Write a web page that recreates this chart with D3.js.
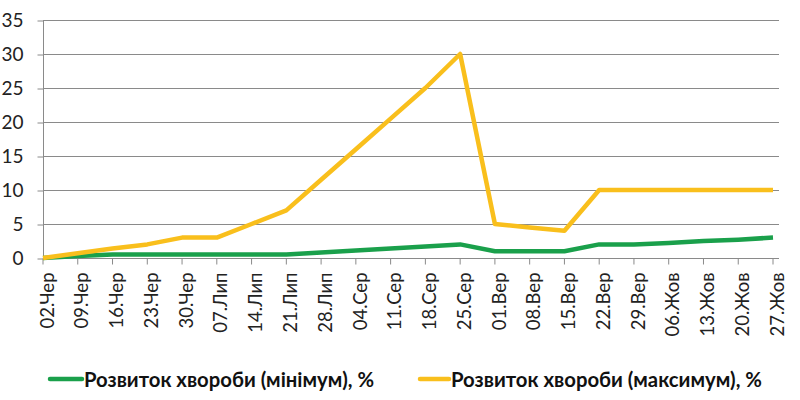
<!DOCTYPE html>
<html><head><meta charset="utf-8">
<script src="https://cdn.jsdelivr.net/npm/d3@7"></script>
<style>
body{margin:0;background:#fff;}
svg{display:block;font-family:Lato,"Open Sans","Noto Sans",sans-serif;}
</style></head>
<body><svg id="c" width="800" height="400"></svg>
<script>
const categories = ["02.Чер","09.Чер","16.Чер","23.Чер","30.Чер","07.Лип","14.Лип","21.Лип","28.Лип","04.Сер","11.Сер","18.Сер","25.Сер","01.Вер","08.Вер","15.Вер","22.Вер","29.Вер","06.Жов","13.Жов","20.Жов","27.Жов"];
const minValues = [0,0.3,0.5,0.5,0.5,0.5,0.5,0.5,0.8,1.1,1.4,1.7,2,1,1,1,2,2,2.2,2.5,2.7,3];
const maxValues = [0,0.7,1.4,2,3,3,5,7,11.5,16,20.5,25,30,5,4.5,4,10,10,10,10,10,10];
const yTicks = [0,5,10,15,20,25,30,35];
const seriesNames = ["Розвиток хвороби (мінімум), %","Розвиток хвороби (максимум), %"];
const colors = ["#1aa04b","#f9bf1c"];

const svg = d3.select("#c");
const x = d3.scalePoint().domain(categories).range([43, 773]);
const y = d3.scaleLinear().domain([0,35]).range([258, 20]);
const xEnd = 779;

// gridlines
svg.append("g").selectAll("line").data(yTicks.filter(d=>d>0)).join("line")
  .attr("x1",43).attr("x2",xEnd).attr("y1",d=>y(d)+0.5).attr("y2",d=>y(d)+0.5)
  .attr("stroke","#8a8a8a").attr("stroke-width",1);

// y axis
const ya = svg.append("g").attr("transform","translate(43.5,0)")
  .call(d3.axisLeft(y).tickValues(yTicks).tickSize(6).tickPadding(14));
ya.select(".domain").attr("stroke","#8a8a8a").attr("d","M0,"+y(35)+"V"+y(0));
ya.selectAll(".tick line").attr("stroke","#8a8a8a").attr("transform","translate(0,0.5)");
ya.selectAll("text").attr("font-size","19px").attr("fill","#222").attr("font-family","Lato,'Open Sans',sans-serif");

// x axis
const xa = svg.append("g").attr("transform","translate(0,"+(y(0)+0.5)+")")
  .call(d3.axisBottom(x).tickSize(6).tickPadding(8));
xa.select(".domain").attr("stroke","#8a8a8a").attr("d","M43,0H"+xEnd);
xa.selectAll(".tick line").attr("stroke","#8a8a8a");
xa.selectAll("text").attr("font-size","18.5px").attr("fill","#222")
  .attr("font-family","Lato,'Open Sans',sans-serif")
  .attr("text-anchor","end").attr("transform","rotate(-90)")
  .attr("x",-14).attr("y",0).attr("dy","0.36em").attr("dx",0);
xa.selectAll(".tick").attr("transform",d=>"translate("+(x(d)+4)+",0)");
xa.selectAll(".tick line").attr("transform","translate(-4,0)");

// lines
const line = d3.line().x((d,i)=>x(categories[i])).y(d=>y(d));
[minValues, maxValues].forEach((vals,k)=>{
  svg.append("path").datum(vals).attr("d",line)
    .attr("fill","none").attr("stroke",colors[k]).attr("stroke-width",4.5)
    .attr("stroke-linejoin","round");
});

// legend
const leg = [{x:50, w:32, tx:84, tw:290},{x:420, w:29, tx:451, tw:311}];
leg.forEach((l,k)=>{
  svg.append("line").attr("x1",l.x).attr("x2",l.x+l.w).attr("y1",379).attr("y2",379)
    .attr("stroke",colors[k]).attr("stroke-width",4.5).attr("stroke-linecap","round");
  svg.append("text").attr("x",l.tx).attr("y",379).attr("dy","0.36em")
    .attr("font-size","21px").attr("font-weight","bold").attr("fill","#111")
    .attr("font-family","Lato,'Open Sans',sans-serif")
    .attr("textLength",l.tw).attr("lengthAdjust","spacingAndGlyphs")
    .text(seriesNames[k]);
});
</script></body></html>
